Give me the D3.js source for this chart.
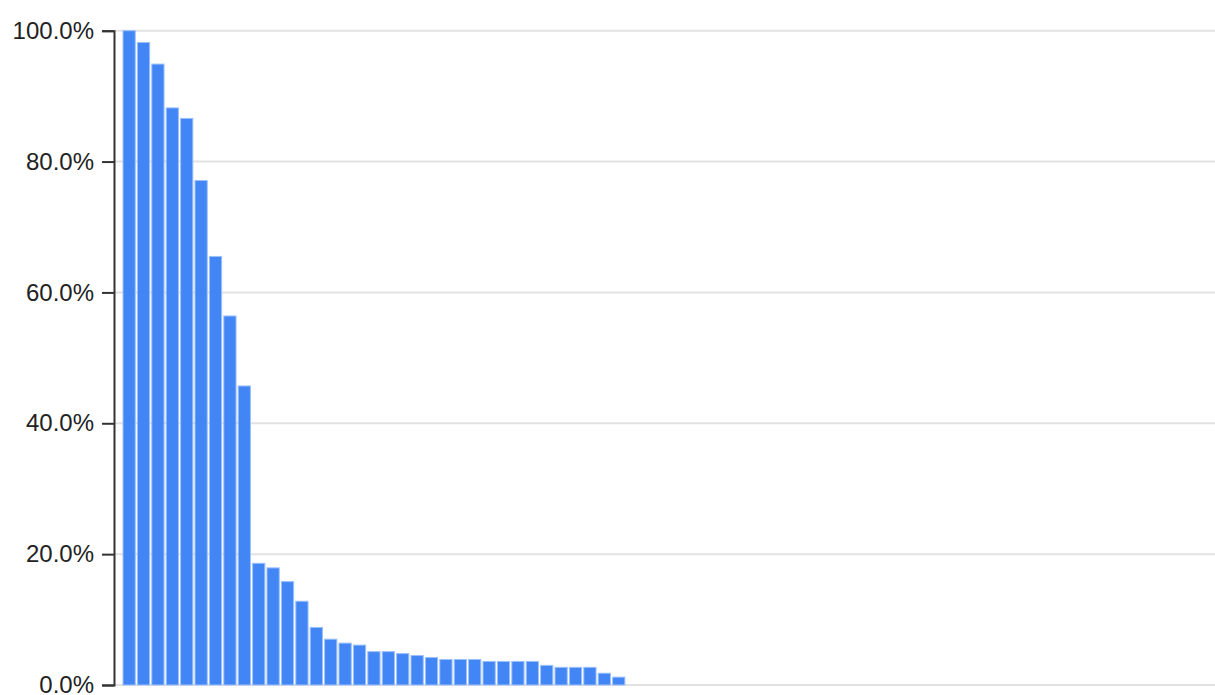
<!DOCTYPE html>
<html>
<head>
<meta charset="utf-8">
<script src="https://cdn.jsdelivr.net/npm/d3@7"></script>
<style>
  html, body { margin: 0; padding: 0; background: #fff; }
  svg { display: block; font-family: "Liberation Sans", Arial, sans-serif; }
</style>
</head>
<body>
<svg class="chart" width="1215" height="695"></svg>
<script>
// bar values in percent, left to right
const values = [
  100, 98.2, 94.9, 88.2, 86.6, 77.1, 65.5, 56.4, 45.7,
  18.6, 17.9, 15.8, 12.8, 8.8, 7.0, 6.4, 6.1, 5.1, 5.1, 4.8,
  4.5, 4.2, 3.9, 3.9, 3.9, 3.6, 3.6, 3.6, 3.6, 3.0,
  2.7, 2.7, 2.7, 1.8, 1.2,
]
const categories = values.map((v, i) => i + 1)
const yTicks = [0, 20, 40, 60, 80, 100]

const WIDTH = 1215
const AXIS_X = 114
const TOP = 30.7
const BOTTOM = 685
const STEP = 14.4
const BAR_COLOR = '#4285f4'

class Chart {
  constructor() {
    this.svg = d3.select('svg.chart')

    this.y = d3.scaleLinear()
      .domain([0, 100])
      .range([BOTTOM, TOP])

    // outer padding leaves ~ half a step before the first bar
    this.x = d3.scaleBand()
      .domain(categories)
      .range([AXIS_X + 1.8, AXIS_X + 1.8 + STEP * (categories.length + 0.85)])
      .paddingInner(0.15)
      .paddingOuter(0.5)

    this.render()
  }

  render() {
    this.gridLines()
    this.bars()
    this.yAxis()
  }

  gridLines() {
    this.svg.append('g')
      .selectAll('line')
      .data(yTicks)
      .enter()
      .append('line')
      .attr('x1', AXIS_X)
      .attr('x2', WIDTH)
      .attr('y1', d => this.y(d))
      .attr('y2', d => this.y(d))
      .style('stroke', '#e2e2e2')
      .style('stroke-width', 2)
  }

  bars() {
    this.svg.append('g')
      .selectAll('rect')
      .data(values)
      .enter()
      .append('rect')
      .attr('x', (d, i) => this.x(categories[i]))
      .attr('width', this.x.bandwidth())
      .attr('y', d => this.y(d))
      .attr('height', d => this.y(0) - this.y(d))
      .style('fill', BAR_COLOR)
      .style('stroke', '#9cc0fa')
      .style('stroke-width', 1)
  }

  yAxis() {
    const axis = d3.axisLeft(this.y)
      .tickValues(yTicks)
      .tickSize(12)
      .tickPadding(8)
      .tickFormat(d => d.toFixed(1) + '%')

    const g = this.svg.append('g')
      .attr('transform', `translate(${AXIS_X},0)`)
      .call(axis)

    g.select('.domain')
      .style('stroke', '#333')
      .style('stroke-width', 2)
    g.selectAll('.tick line')
      .style('stroke', '#333')
      .style('stroke-width', 2)
    g.selectAll('.tick text')
      .style('font-size', '24px')
      .style('fill', '#222')
      .style('font-family', '"Liberation Sans", Arial, sans-serif')
  }
}

new Chart()
</script>
</body>
</html>
